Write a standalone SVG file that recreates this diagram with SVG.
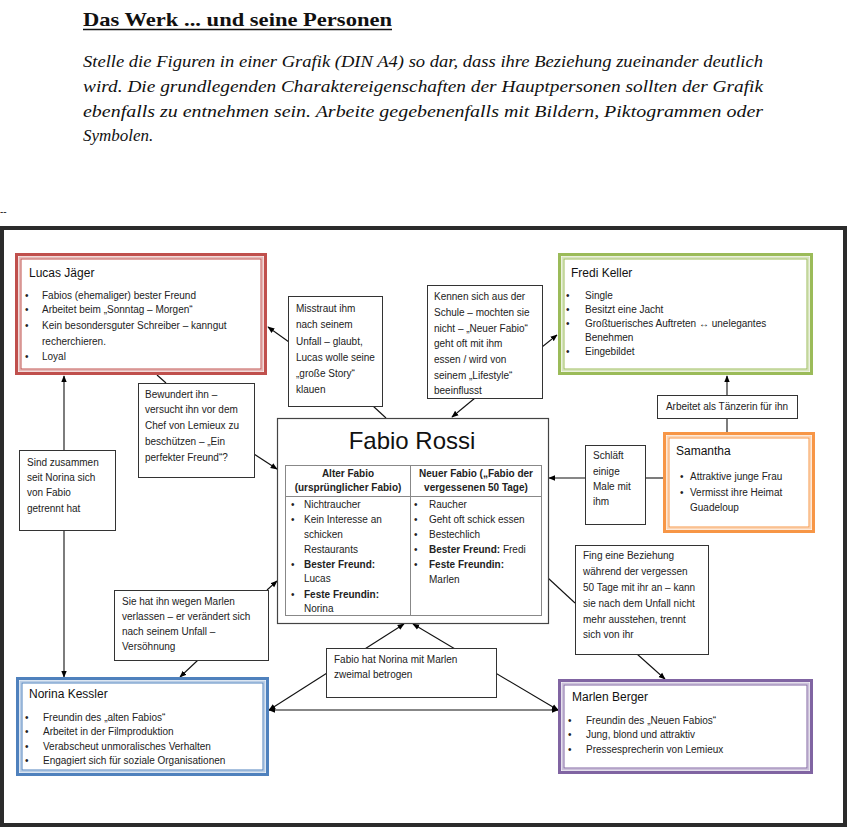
<svg xmlns="http://www.w3.org/2000/svg" width="849" height="829" viewBox="0 0 849 829">
<defs>
<marker id="ah" viewBox="0 0 10 10" refX="9" refY="5" markerWidth="7" markerHeight="7" orient="auto-start-reverse" markerUnits="userSpaceOnUse">
<path d="M0,1 L10,5 L0,9 z" fill="#000"/>
</marker>
<style>
.t{font-family:"Liberation Sans",Arial,sans-serif;font-size:10px;fill:#222}
.h{font-family:"Liberation Sans",Arial,sans-serif;font-size:12px;fill:#111}
.b{font-weight:bold}
.lbl{fill:#fff;stroke:#333;stroke-width:1}
.c{stroke:#111;stroke-width:1.1;fill:none}
.ce{stroke:#111;stroke-width:1.1;fill:none;marker-end:url(#ah)}
.cb{stroke:#111;stroke-width:1.1;fill:none;marker-end:url(#ah);marker-start:url(#ah)}
.ser{font-family:"Liberation Serif","Times New Roman",serif;fill:#111}
</style>
</defs>
<rect width="849" height="829" fill="#fff"/>
<g id="header">
<text class="ser" x="83" y="26" font-size="19" font-weight="bold" textLength="309" lengthAdjust="spacingAndGlyphs">Das Werk ... und seine Personen</text>
<line x1="83" y1="29.5" x2="392" y2="29.5" stroke="#111" stroke-width="1.3"/>
<text class="ser" font-style="italic" font-size="17" x="83" y="67" textLength="680" lengthAdjust="spacingAndGlyphs">Stelle die Figuren in einer Grafik (DIN A4) so dar, dass ihre Beziehung zueinander deutlich</text>
<text class="ser" font-style="italic" font-size="17" x="83" y="92" textLength="680" lengthAdjust="spacingAndGlyphs">wird. Die grundlegenden Charaktereigenschaften der Hauptpersonen sollten der Grafik</text>
<text class="ser" font-style="italic" font-size="17" x="83" y="117" textLength="680" lengthAdjust="spacingAndGlyphs">ebenfalls zu entnehmen sein. Arbeite gegebenenfalls mit Bildern, Piktogrammen oder</text>
<text class="ser" font-style="italic" font-size="17" x="83" y="141">Symbolen.</text>
<text class="t" x="0" y="215">--</text>
</g>
<rect id="frame" x="2" y="228" width="843" height="597" fill="none" stroke="#2b2b2b" stroke-width="4"/>
<g id="connectors">
<line class="cb" x1="64" y1="376" x2="64" y2="677"/>
<line class="ce" x1="289" y1="342" x2="268" y2="327"/>
<line class="c" x1="373" y1="406" x2="386" y2="418"/>
<line class="ce" x1="475" y1="398" x2="452" y2="417"/>
<line class="ce" x1="542" y1="347" x2="557" y2="335"/>
<line class="c" x1="157" y1="375" x2="166" y2="383"/>
<line class="ce" x1="254" y1="454" x2="277" y2="469"/>
<line class="ce" x1="267" y1="590" x2="277" y2="581"/>
<line class="ce" x1="198" y1="660" x2="180" y2="677"/>
<line class="ce" x1="727" y1="395" x2="727" y2="376"/>
<line class="c" x1="727" y1="418" x2="727" y2="432"/>
<line class="ce" x1="585" y1="478" x2="549" y2="478"/>
<line class="c" x1="645" y1="478" x2="663" y2="478"/>
<line class="c" x1="548" y1="578" x2="575" y2="603"/>
<line class="ce" x1="637" y1="654" x2="665" y2="679"/>
<line class="cb" x1="269" y1="710" x2="404" y2="624"/>
<line class="cb" x1="558" y1="710" x2="413" y2="624"/>
<line class="cb" x1="269" y1="710" x2="558" y2="710"/>
</g>
<g id="lucas">
<rect x="16.5" y="254.5" width="249" height="119" fill="#fff" stroke="#c0504d" stroke-width="3"/>
<rect x="19.5" y="257.5" width="243" height="113" fill="none" stroke="#e6b9b8" stroke-width="2"/>
<rect x="21" y="259" width="240" height="110" fill="none" stroke="#c0504d" stroke-width="1"/>
<text class="h" x="29" y="277">Lucas Jäger</text>
<g class="t">
<text x="25" y="299">•</text><text x="42" y="299">Fabios (ehemaliger) bester Freund</text>
<text x="25" y="313">•</text><text x="42" y="313">Arbeitet beim „Sonntag – Morgen“</text>
<text x="25" y="329">•</text><text x="42" y="329">Kein besondersguter Schreiber – kanngut</text>
<text x="42" y="345">recherchieren.</text>
<text x="25" y="360">•</text><text x="42" y="360">Loyal</text>
</g>
</g>
<g id="fredi">
<rect x="559.5" y="254.5" width="252" height="119" fill="#fff" stroke="#9bbb59" stroke-width="3"/>
<rect x="562.5" y="257.5" width="246" height="113" fill="none" stroke="#d7e4bd" stroke-width="2"/>
<rect x="564" y="259" width="243" height="110" fill="none" stroke="#9bbb59" stroke-width="1"/>
<text class="h" x="571" y="277">Fredi Keller</text>
<g class="t">
<text x="566" y="299">•</text><text x="585" y="299">Single</text>
<text x="566" y="313">•</text><text x="585" y="313">Besitzt eine Jacht</text>
<text x="566" y="327">•</text><text x="585" y="327">Großtuerisches Auftreten ↔ unelegantes</text>
<text x="585" y="341">Benehmen</text>
<text x="566" y="355">•</text><text x="585" y="355">Eingebildet</text>
</g>
</g>
<g id="misstraut">
<rect class="lbl" x="288.5" y="296.5" width="94" height="110"/>
<g class="t">
<text x="296" y="312">Misstraut ihm</text>
<text x="296" y="328">nach seinem</text>
<text x="296" y="345">Unfall – glaubt,</text>
<text x="296" y="361">Lucas wolle seine</text>
<text x="296" y="377">„große Story“</text>
<text x="296" y="393">klauen</text>
</g>
</g>
<g id="kennen">
<rect class="lbl" x="427.5" y="285.5" width="115" height="113"/>
<g class="t">
<text x="434" y="300">Kennen sich aus der</text>
<text x="434" y="316">Schule – mochten sie</text>
<text x="434" y="332">nicht – „Neuer Fabio“</text>
<text x="434" y="347">geht oft mit ihm</text>
<text x="434" y="363">essen / wird von</text>
<text x="434" y="379">seinem „Lifestyle“</text>
<text x="434" y="394">beeinflusst</text>
</g>
</g>
<g id="bewundert">
<rect class="lbl" x="138.5" y="383.5" width="116" height="94"/>
<g class="t">
<text x="145" y="398">Bewundert ihn –</text>
<text x="145" y="413">versucht ihn vor dem</text>
<text x="145" y="429">Chef von Lemieux zu</text>
<text x="145" y="445">beschützen – „Ein</text>
<text x="145" y="461">perfekter Freund“?</text>
</g>
</g>
<g id="taenzerin">
<rect class="lbl" x="657.5" y="395.5" width="140" height="23"/>
<text class="t" x="727" y="410" text-anchor="middle">Arbeitet als Tänzerin für ihn</text>
</g>
<g id="samantha">
<rect x="664.5" y="433.5" width="149" height="98" fill="#fff" stroke="#f79646" stroke-width="3"/>
<rect x="667.5" y="436.5" width="143" height="92" fill="none" stroke="#fbd5b5" stroke-width="2"/>
<rect x="669" y="438" width="140" height="89" fill="none" stroke="#f79646" stroke-width="1"/>
<text class="h" x="676" y="455">Samantha</text>
<g class="t">
<text x="680" y="480">•</text><text x="690" y="480">Attraktive junge Frau</text>
<text x="680" y="496">•</text><text x="690" y="496">Vermisst ihre Heimat</text>
<text x="690" y="511">Guadeloup</text>
</g>
</g>
<g id="schlaeft">
<rect class="lbl" x="585.5" y="445.5" width="60" height="79"/>
<g class="t">
<text x="593" y="459">Schläft</text>
<text x="593" y="475">einige</text>
<text x="593" y="490">Male mit</text>
<text x="593" y="505">ihm</text>
</g>
</g>
<g id="fabio">
<rect x="277.5" y="418.5" width="271" height="205" fill="#fff" stroke="#444" stroke-width="1.2"/>
<text x="412" y="449" text-anchor="middle" font-family="'Liberation Sans',Arial,sans-serif" font-size="24" fill="#111">Fabio Rossi</text>
<rect x="285.5" y="465.5" width="256" height="150" fill="none" stroke="#888" stroke-width="1"/>
<line x1="410.5" y1="465.5" x2="410.5" y2="615.5" stroke="#888" stroke-width="1"/>
<line x1="285.5" y1="496.5" x2="541.5" y2="496.5" stroke="#888" stroke-width="1"/>
<g class="t b">
<text x="348" y="477" text-anchor="middle">Alter Fabio</text>
<text x="348" y="491" text-anchor="middle">(ursprünglicher Fabio)</text>
<text x="476" y="477" text-anchor="middle">Neuer Fabio („Fabio der</text>
<text x="476" y="491" text-anchor="middle">vergessenen 50 Tage)</text>
</g>
<g class="t" font-size="10.8">
<text x="291" y="508">•</text><text x="304" y="508">Nichtraucher</text>
<text x="291" y="523">•</text><text x="304" y="523">Kein Interesse an</text>
<text x="304" y="538">schicken</text>
<text x="304" y="553">Restaurants</text>
<text x="291" y="568">•</text><text x="304" y="568" font-weight="bold">Bester Freund:</text>
<text x="304" y="582">Lucas</text>
<text x="291" y="598">•</text><text x="304" y="598" font-weight="bold">Feste Freundin:</text>
<text x="304" y="612">Norina</text>
<text x="414" y="508">•</text><text x="429" y="508">Raucher</text>
<text x="414" y="523">•</text><text x="429" y="523">Geht oft schick essen</text>
<text x="414" y="538">•</text><text x="429" y="538">Bestechlich</text>
<text x="414" y="553">•</text><text x="429" y="553"><tspan font-weight="bold">Bester Freund:</tspan> Fredi</text>
<text x="414" y="568">•</text><text x="429" y="568" font-weight="bold">Feste Freundin:</text>
<text x="429" y="583">Marlen</text>
</g>
</g>
<g id="sind">
<rect class="lbl" x="19.5" y="450.5" width="96" height="80"/>
<g class="t">
<text x="27" y="466">Sind zusammen</text>
<text x="27" y="481">seit Norina sich</text>
<text x="27" y="496">von Fabio</text>
<text x="27" y="512">getrennt hat</text>
</g>
</g>
<g id="siehat">
<rect class="lbl" x="114.5" y="590.5" width="154" height="70"/>
<g class="t">
<text x="122" y="605">Sie hat ihn wegen Marlen</text>
<text x="122" y="620">verlassen – er verändert sich</text>
<text x="122" y="635">nach seinem Unfall –</text>
<text x="122" y="650">Versöhnung</text>
</g>
</g>
<g id="fing">
<rect class="lbl" x="575.5" y="545.5" width="133" height="109"/>
<g class="t">
<text x="583" y="559">Fing eine Beziehung</text>
<text x="583" y="575">während der vergessen</text>
<text x="583" y="591">50 Tage mit ihr an – kann</text>
<text x="583" y="607">sie nach dem Unfall nicht</text>
<text x="583" y="623">mehr ausstehen, trennt</text>
<text x="583" y="638">sich von ihr</text>
</g>
</g>
<g id="betrogen">
<rect class="lbl" x="326.5" y="648.5" width="170" height="49"/>
<g class="t">
<text x="334" y="663">Fabio hat Norina mit Marlen</text>
<text x="334" y="678">zweimal betrogen</text>
</g>
</g>
<g id="norina">
<rect x="17.5" y="678.5" width="250" height="96" fill="#fff" stroke="#4f81bd" stroke-width="3"/>
<rect x="20.5" y="681.5" width="244" height="90" fill="none" stroke="#b9cde5" stroke-width="2"/>
<rect x="22" y="683" width="241" height="87" fill="none" stroke="#4f81bd" stroke-width="1"/>
<text class="h" x="29" y="698">Norina Kessler</text>
<g class="t">
<text x="25" y="721">•</text><text x="43" y="721">Freundin des „alten Fabios“</text>
<text x="25" y="735">•</text><text x="43" y="735">Arbeitet in der Filmproduktion</text>
<text x="25" y="750">•</text><text x="43" y="750">Verabscheut unmoralisches Verhalten</text>
<text x="25" y="764">•</text><text x="43" y="764">Engagiert sich für soziale Organisationen</text>
</g>
</g>
<g id="marlen">
<rect x="559.5" y="680.5" width="252" height="92" fill="#fff" stroke="#8064a2" stroke-width="3"/>
<rect x="562.5" y="683.5" width="246" height="86" fill="none" stroke="#ccc1da" stroke-width="2"/>
<rect x="564" y="685" width="243" height="83" fill="none" stroke="#8064a2" stroke-width="1"/>
<text class="h" x="572" y="701">Marlen Berger</text>
<g class="t">
<text x="568" y="724">•</text><text x="586" y="724">Freundin des „Neuen Fabios“</text>
<text x="568" y="738">•</text><text x="586" y="738">Jung, blond und attraktiv</text>
<text x="568" y="753">•</text><text x="586" y="753">Pressesprecherin von Lemieux</text>
</g>
</g>
</svg>
